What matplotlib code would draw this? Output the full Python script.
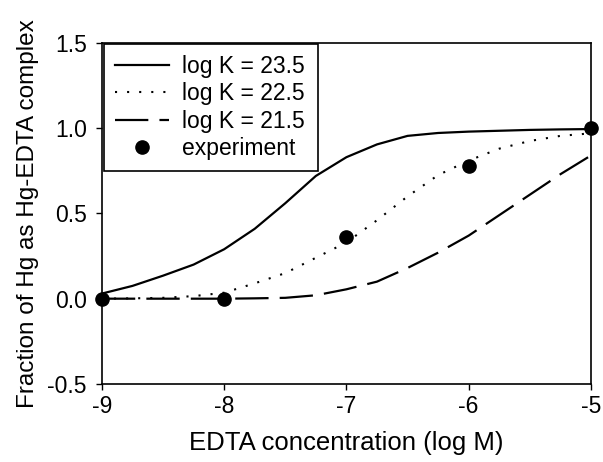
import matplotlib
import numpy as np

matplotlib.use("Agg")
import matplotlib.pyplot as plt  # noqa: E402

plt.rcParams["font.family"] = ["Liberation Sans", "DejaVu Sans"]

# valores
log_edta = [-9, -8.75, -8.5, -8.25, -8.0, -7.75, -7.5, -7.25, -7.0,
            -6.75, -6.5, -6.25, -6.0, -5.75, -5.5, -5.25, -5.0]
frac_235 = [0.03, 0.075, 0.135, 0.20, 0.29, 0.41, 0.56, 0.72, 0.83,
            0.905, 0.955, 0.972, 0.98, 0.985, 0.99, 0.993, 0.995]
frac_225 = [0.0, 0.002, 0.005, 0.015, 0.035, 0.09, 0.15, 0.24, 0.33,
            0.46, 0.60, 0.725, 0.81, 0.88, 0.925, 0.955, 0.97]
frac_215 = [0.0, 0.0, 0.0, 0.0, 0.0, 0.002, 0.005, 0.02, 0.055,
            0.10, 0.18, 0.27, 0.37, 0.49, 0.61, 0.73, 0.84]

exp_x = [-9, -8, -7, -6, -5]
exp_y = [0.0, 0.0, 0.36, 0.78, 1.0]

etiquetas = ["log K = 23.5", "log K = 22.5", "log K = 21.5", "experiment"]

fig = plt.figure(figsize=(6.03, 4.62), dpi=100)
ax = fig.add_axes([0.169, 0.169, 0.811, 0.738])

ax.plot(log_edta, frac_235, "-", color="black", lw=1.6, label=etiquetas[0])
ax.plot(log_edta, frac_225, color="black", lw=1.5, ls=(0, (1, 4.8)),
        label=etiquetas[1])
ax.plot(log_edta, frac_215, color="black", lw=1.6, ls=(0, (15, 5)),
        label=etiquetas[2])
ax.plot(exp_x, exp_y, "o", color="black", ms=9.5, ls="none",
        clip_on=False, zorder=5, label=etiquetas[3])

ax.set_xlim(-9, -5)
ax.set_ylim(-0.5, 1.5)
ax.set_xticks([-9, -8, -7, -6, -5])
ax.set_yticks([-0.5, 0.0, 0.5, 1.0, 1.5])
ax.set_xticklabels(["-9", "-8", "-7", "-6", "-5"])
ax.set_yticklabels(["-0.5", "0.0", "0.5", "1.0", "1.5"])
ax.tick_params(direction="out", length=4, width=1, labelsize=16.5)
ax.tick_params(axis="x", pad=4)
ax.tick_params(axis="y", pad=7)
for s in ax.spines.values():
    s.set_linewidth(1.2)

ax.set_xlabel("EDTA concentration (log M)", fontsize=18.5, labelpad=9)
ax.set_ylabel("Fraction of Hg as Hg-EDTA complex", fontsize=17.5, labelpad=6)

leg = ax.legend(loc="upper left", bbox_to_anchor=(0.004, 0.0, 0.437, 0.998),
                mode="expand", fontsize=16.5, frameon=True, fancybox=False,
                framealpha=1, edgecolor="black", borderaxespad=0,
                handlelength=2.36, handletextpad=0.57, labelspacing=0.2,
                borderpad=0.48)
leg.get_frame().set_linewidth(1.2)

fig.savefig("out.png", dpi=100)
